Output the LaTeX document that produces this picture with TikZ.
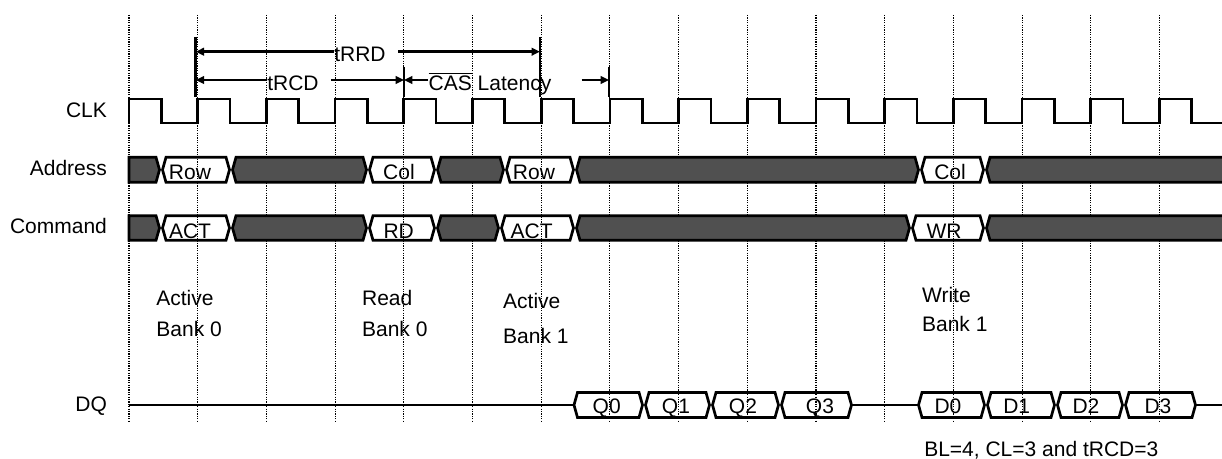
\documentclass[tikz,border=0pt]{standalone}
\usepackage{fontspec}
\setmainfont{Liberation Sans}
\usetikzlibrary{arrows.meta}

\definecolor{busgray}{RGB}{80,80,80}

\begin{document}
\begin{tikzpicture}[x=0.5pt, y=-0.5pt,
    every node/.style={inner sep=0pt, font=\fontsize{10.5}{15.5}\selectfont},
    sig/.style={line width=1.35pt},
    grid/.style={line width=0.55pt, dash pattern=on 0.6pt off 0.6pt},
    dim/.style={line width=1.35pt, -{Triangle[length=4.2pt,width=3.8pt]}},
    rowlbl/.style={anchor=base east},
    buslbl/.style={anchor=base},
    note/.style={anchor=west, align=left}]

  \useasboundingbox (0,0) rectangle (1222,459);

  % clock grid
  \foreach \k in {0,...,15}
    \draw[grid] (129+68.7*\k,15) -- (129+68.7*\k,422);

  % signal names
  \node[rowlbl] (clk) at (107.3,117.3) {CLK};
  \node[rowlbl] (addr) at (107.3,176) {Address};
  \node[rowlbl] (cmd) at (107.3,233.3) {Command};
  \node[rowlbl] (dq) at (107.3,412) {DQ};

  % clock
  \draw[sig] (129,123) \foreach \k in {0,...,15} {
      -- ++(0,-24) -- ++(32.3,0) -- ++(0,24) -- ++(36.4,0) };

  % address bus
  \draw[sig, fill=busgray] (129,157.3) -- (156,157.3) -- (159.5,169.8)
    -- (156,182.3) -- (129,182.3) -- cycle;
  \foreach \a/\b/\c in {231/368/busgray, 436/505/busgray, 575/920/busgray,
      985/1240/busgray, 161/231/none, 368/436/none, 505/575/none, 920/985/none}
    \draw[sig, fill=\c] (\a+1.5,169.8) -- (\a+5,157.3) -- (\b-5,157.3)
      -- (\b-1.5,169.8) -- (\b-5,182.3) -- (\a+5,182.3) -- cycle;
  \node[buslbl] (aRow0) at (190,179.3) {Row};
  \node[buslbl] (aCol0) at (399,179.3) {Col};
  \node[buslbl] (aRow1) at (534,179.3) {Row};
  \node[buslbl] (aCol1) at (950,179.3) {Col};

  % command bus
  \draw[sig, fill=busgray] (129,215.7) -- (156,215.7) -- (159.5,228)
    -- (156,240.3) -- (129,240.3) -- cycle;
  \foreach \a/\b/\c in {231/368/busgray, 436/500/busgray, 575/911/busgray,
      985/1240/busgray, 161/231/none, 368/436/none, 500/575/none, 911/985/none}
    \draw[sig, fill=\c] (\a+1.5,228) -- (\a+5,215.7) -- (\b-5,215.7)
      -- (\b-1.5,228) -- (\b-5,240.3) -- (\a+5,240.3) -- cycle;
  \node[buslbl] (cAct0) at (190,238.5) {ACT};
  \node[buslbl] (cRd0) at (398.7,238.5) {RD};
  \node[buslbl] (cAct1) at (531.7,238.5) {ACT};
  \node[buslbl] (cWr1) at (944,238.5) {WR};

  % data bus
  \draw[sig] (129,405) -- (574,405);
  \draw[sig] (851.5,405) -- (918.5,405);
  \draw[sig] (1195.5,405) -- (1222,405);
  \foreach \a/\b in {572.5/644, 644/711, 711/780, 780/853,
      917/986, 986/1056, 1056/1124, 1124/1197}
    \draw[sig] (\a+1.5,405) -- (\a+5,392.5) -- (\b-5,392.5)
      -- (\b-1.5,405) -- (\b-5,417.5) -- (\a+5,417.5) -- cycle;
  \foreach \x/\t [count=\i] in {606.7/Q0, 676/Q1, 743/Q2, 820/Q3,
      948/D0, 1016.7/D1, 1086/D2, 1158/D3}
    \node[buslbl] (dq\i) at (\x,413.3) {\t};

  % timing ticks
  \foreach \x/\y in {195.7/37, 540/37, 404/67, 609/67}
    \draw[sig] (\x,\y) -- (\x,97);

  % tRRD
  \coordinate (rrdL) at (195.7,51.7);
  \coordinate (rrdR) at (540,51.7);
  \node (trrd) at (360,54.5) {tRRD};
  \draw[dim] (trrd.west |- rrdL) -- (rrdL);
  \draw[dim] ([xshift=6pt]trrd.east |- rrdR) -- (rrdR);

  % tRCD
  \coordinate (rcdL) at (195.7,80);
  \coordinate (rcdR) at (404,80);
  \node (trcd) at (293,83.3) {tRCD};
  \draw[dim] (trcd.west |- rcdL) -- (rcdL);
  \draw[dim] ([xshift=6pt]trcd.east |- rcdR) -- (rcdR);

  % CAS latency
  \coordinate (casL) at (404,80);
  \coordinate (casR) at (609,80);
  \node (cas) at (490,83.3) {$\overline{\mbox{CAS}}$ Latency};
  \draw[dim] (cas.west |- casL) -- (casL);
  \draw[dim] ([xshift=15pt]cas.east |- casR) -- (casR);

  % command notes
  \node[note] (actB0) at (156,313.8) {Active\\Bank 0};
  \node[note] (rdB0) at (361.7,313.5) {Read\\Bank 0};
  \node[note, font=\fontsize{10.5}{17.5}\selectfont] (actB1) at (502.8,318.4) {Active\\Bank 1};
  \node[note, font=\fontsize{10.5}{14.6}\selectfont] (wrB1) at (921.7,309.7) {Write\\Bank 1};

  \node[buslbl] (params) at (1041.3,456.7) {BL=4, CL=3 and tRCD=3};
\end{tikzpicture}
\end{document}
